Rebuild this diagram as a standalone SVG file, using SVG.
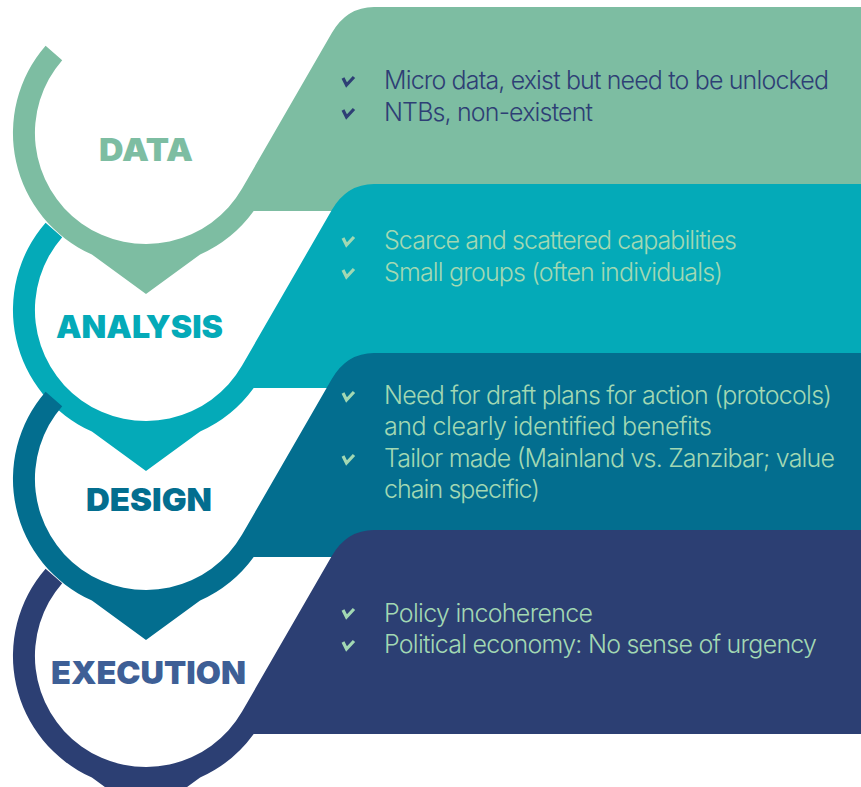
<svg xmlns="http://www.w3.org/2000/svg" width="861" height="787" viewBox="0 0 861 787">
<style>
.lbl{font-family:Inter,"Liberation Sans",Arial,sans-serif;font-weight:900;font-size:31px}
.txt{font-family:Inter,"Liberation Sans",Arial,sans-serif;font-weight:300;font-size:25px}
.ck{fill:none;stroke-width:3.2;stroke-linecap:butt;stroke-linejoin:miter}
.dark{fill:#2e3f75}
.light{fill:#a2d8b3}
.ckd{stroke:#2e3f75}
.ckl{stroke:#a2d8b3}
</style>
<defs>
<path id="shape" d="M45.6 45.7 A133 133 0 0 0 91.9 254.5 L146 294 L200.1 254.5 A133 133 0 0 0 253.7 211 L861 211 L861 7 L374 7 Q346.9 7 331.8 33 L242.1 188.5 A111 111 0 1 1 62.2 60.2 Z"/>
</defs>
<rect width="861" height="787" fill="#ffffff"/>

<g id="data">
<use href="#shape" fill="#7dbda2"/>
<text class="lbl" x="99" y="161" fill="#7dbda2" textLength="94" lengthAdjust="spacingAndGlyphs">DATA</text>
<path class="ck ckd" d="M343 78 L346.5 85 L354 77"/>
<text class="txt dark" x="384" y="89" textLength="445">Micro data, exist but need to be unlocked</text>
<path class="ck ckd" d="M343 110 L346.5 117 L354 109"/>
<text class="txt dark" x="384" y="121" textLength="209">NTBs, non-existent</text>
</g>

<g id="analysis">
<use href="#shape" fill="#04aab8" transform="translate(0,177)"/>
<text class="lbl" x="56" y="338" fill="#04aab8" textLength="167" lengthAdjust="spacingAndGlyphs">ANALYSIS</text>
<path class="ck ckl" d="M343 238 L346.5 245 L354 237"/>
<text class="txt light" x="384" y="249" textLength="353">Scarce and scattered capabilities</text>
<path class="ck ckl" d="M343 270 L346.5 277 L354 269"/>
<text class="txt light" x="384" y="281" textLength="339">Small groups (often individuals)</text>
</g>

<g id="design">
<use href="#shape" fill="#036e8f" transform="translate(0,346)"/>
<text class="lbl" x="86" y="511" fill="#036e8f" textLength="126" lengthAdjust="spacingAndGlyphs">DESIGN</text>
<path class="ck ckl" d="M343 393 L346.5 400 L354 392"/>
<text class="txt light" x="384" y="404" textLength="448">Need for draft plans for action (protocols)</text>
<text class="txt light" x="384" y="435" textLength="328">and clearly identified benefits</text>
<path class="ck ckl" d="M343 456 L346.5 463 L354 455"/>
<text class="txt light" x="384" y="467" textLength="451">Tailor made (Mainland vs. Zanzibar; value</text>
<text class="txt light" x="384" y="498" textLength="156">chain specific)</text>
</g>

<g id="execution">
<use href="#shape" fill="#2c3f73" transform="translate(0,523)"/>
<text class="lbl" x="51" y="684" fill="#3e5f96" textLength="195" lengthAdjust="spacingAndGlyphs">EXECUTION</text>
<path class="ck ckl" d="M343 610 L346.5 617 L354 609"/>
<text class="txt light" x="384" y="622" textLength="209">Policy incoherence</text>
<path class="ck ckl" d="M343 642 L346.5 649 L354 641"/>
<text class="txt light" x="384" y="653" textLength="433">Political economy: No sense of urgency</text>
</g>
</svg>
